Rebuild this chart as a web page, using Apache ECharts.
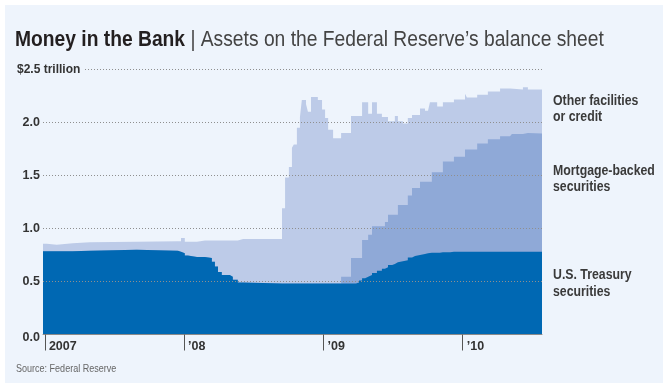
<!DOCTYPE html>
<html><head><meta charset="utf-8">
<script src="https://cdn.jsdelivr.net/npm/echarts@6/dist/echarts.min.js"></script>
<style>
html,body{margin:0;padding:0;background:#fff;width:663px;height:383px;overflow:hidden}
#c{position:absolute;left:5px;top:5px;width:658px;height:378px;background:#eef4fc}
</style>
</head><body><div id="c"></div>
<script>
// Week-ending dates where any layer changes (step values hold until next date)
const dates = ['2006-12-27','2007-01-06','2007-02-01','2007-03-15','2007-04-29','2007-08-30','2007-12-16','2007-12-24',
'2008-01-03','2008-01-11','2008-02-04','2008-02-25','2008-03-14','2008-03-22','2008-03-30','2008-04-09','2008-04-30',
'2008-05-08','2008-05-21','2008-06-04','2008-09-14','2008-09-22','2008-10-02','2008-10-10','2008-10-15','2008-10-23',
'2008-10-31','2008-11-05','2008-11-16','2008-11-21','2008-11-29','2008-12-17','2008-12-28','2009-01-05','2009-01-13',
'2009-01-26','2009-02-16','2009-03-14','2009-03-27','2009-04-04','2009-04-12','2009-04-20','2009-04-28','2009-05-08',
'2009-05-21','2009-06-03','2009-06-11','2009-06-19','2009-06-30','2009-07-07','2009-07-15','2009-07-28','2009-08-10',
'2009-08-21','2009-08-29','2009-09-11','2009-09-24','2009-10-02','2009-10-07','2009-10-12','2009-10-26','2009-11-02',
'2009-11-10','2009-11-29','2009-12-09','2010-01-07','2010-01-12','2010-02-08','2010-03-08','2010-04-09','2010-05-05',
'2010-05-10','2010-06-08','2010-06-21','2010-07-28'];
// $ trillion
const treasury = [0.785,0.785,0.785,0.79,0.80,0.79,0.78,0.765,
0.745,0.73,0.73,0.72,0.685,0.64,0.59,0.56,0.545,
0.515,0.49,0.48,0.48,0.48,0.48,0.48,0.48,0.48,
0.48,0.48,0.48,0.48,0.48,0.48,0.48,0.48,0.48,
0.48,0.48,0.48,0.49,0.51,0.53,0.545,0.56,0.58,
0.60,0.62,0.635,0.655,0.665,0.68,0.69,0.70,0.725,
0.74,0.75,0.758,0.765,0.77,0.77,0.77,0.77,0.775,
0.775,0.78,0.78,0.78,0.78,0.78,0.78,0.78,0.78,
0.78,0.78,0.78,0.78];
const mbs = [0,0,0,0,0,0,0,0,
0,0,0,0,0,0,0,0,0,
0,0,0,0,0,0,0,0,0,
0,0,0,0,0,0,0,0,0,
0,0.065,0.24,0.23,0.21,0.36,0.345,0.38,0.44,
0.42,0.40,0.425,0.475,0.465,0.45,0.53,0.52,0.585,
0.64,0.63,0.682,0.675,0.67,0.67,0.76,0.76,0.755,
0.855,0.85,0.895,0.965,0.965,1.02,1.06,1.09,1.09,
1.11,1.12,1.115,1.115];
const other = [0.07,0.06,0.075,0.08,0.075,0.09,0.10,0.145,
0.13,0.145,0.155,0.165,0.20,0.245,0.295,0.325,0.34,
0.37,0.41,0.42,0.71,1.00,1.10,1.28,1.31,1.47,
1.57,1.73,1.69,1.62,1.76,1.73,1.64,1.56,1.45,
1.37,1.355,1.34,1.34,1.34,1.30,1.30,1.14,1.17,
1.06,1.03,0.99,0.88,0.88,0.93,0.79,0.77,0.73,
0.69,0.69,0.69,0.67,0.67,0.75,0.66,0.62,0.62,
0.56,0.56,0.54,0.525,0.49,0.46,0.45,0.45,0.46,
0.42,0.43,0.415,0.415];
const seriesNames = ['U.S. Treasury securities','Mortgage-backed securities','Other facilities or credit'];
const seriesLabels = ['U.S. Treasury\nsecurities','Mortgage-backed\nsecurities','Other facilities\nor credit'];
const tickDates = ['2007-01-01','2008-01-01','2009-01-01','2010-01-01'];
const tickLabels = ['2007','\u201908','\u201909','\u201910'];

const SANS = "'Liberation Sans',Arial,sans-serif";
const NARROW_SCALE = 0.82; // emulate a narrow face by horizontal scaling
const pd = d => echarts.number.parseDate(d).getTime();
const tickTimes = tickDates.map(pd);
const times = dates.map(pd);
const colors = ['#0068b3','#8fa9d7','#bdcbe8'];

// cumulative layer tops
const topT = treasury.slice();
const topM = treasury.map((t, i) => +(t + mbs[i]).toFixed(3));
const topAll = topM.map((v, i) => +(v + other[i]).toFixed(3));
const tops = [topT, topM, topAll];

const chart = echarts.init(document.getElementById('c'), null, {renderer:'canvas'});
const areaSeries = [2, 1, 0].map(k => ({
  name: seriesNames[k], type: 'line', step: 'end', z: 3 - k,
  symbol: 'none', silent: true,
  lineStyle: {width: 0}, itemStyle: {color: colors[k]},
  areaStyle: {color: colors[k], opacity: 1, origin: 'start'},
  data: times.map((t, i) => [t, tops[k][i]])
}));

const narrowText = (x, y, text, size, weight, fill, extra) => ({
  type: 'text', x: x, y: y, scaleX: NARROW_SCALE, z: 100,
  style: Object.assign({text: text, fill: fill, fontFamily: SANS, fontWeight: weight,
    fontSize: size, verticalAlign: 'middle'}, extra || {})
});

const option = {
  animation: false,
  backgroundColor: 'transparent',
  grid: {left: 38, right: 121, top: 64.3, bottom: 48.5},
  xAxis: {
    type: 'value', min: times[0], max: times[times.length-1], z: 10,
    axisLine: {show: true, lineStyle: {color: '#8a8a8a', width: 1}},
    axisTick: {show: true, customValues: tickTimes, length: 16, lineStyle: {color: '#555', width: 1}},
    axisLabel: {
      customValues: tickTimes,
      formatter: v => { const i = tickTimes.indexOf(v); return i >= 0 ? tickLabels[i] : ''; },
      align: 'left', verticalAlign: 'middle', margin: 12, padding: [0,0,0,4],
      color: '#333', fontFamily: SANS, fontWeight: 'bold', fontSize: 12.5
    },
    splitLine: {show: false}
  },
  yAxis: {
    type: 'value', min: 0, max: 2.5, interval: 0.5, z: 10,
    axisLine: {show: false}, axisTick: {show: false},
    axisLabel: {
      margin: 3, color: '#333', fontFamily: SANS, fontWeight: 'bold', fontSize: 12.5,
      formatter: v => v >= 2.49 ? '' : (v === 0 ? '{z|0.0}' : v.toFixed(1)),
      rich: {z: {padding: [7,0,0,0], color: '#333', fontFamily: SANS, fontWeight: 'bold', fontSize: 12.5}}
    },
    splitLine: {show: true, lineStyle: {color: '#8f8f8f', width: 1, type: [1,2]}}
  },
  series: areaSeries,
  graphic: [
    {type: 'text', x: 10, y: 35, scaleX: 0.875, z: 100, style: {
      text: '{b|Money in the Bank} {r|| Assets on the Federal Reserve\u2019s balance sheet}',
      verticalAlign: 'middle', fontFamily: SANS, fontSize: 22,
      rich: {
        b: {fontFamily: SANS, fontWeight: 'bold', fontSize: 22, fill: '#231f20'},
        r: {fontFamily: SANS, fontWeight: 'normal', fontSize: 22, fill: '#444'}
      }}},
    {type: 'text', x: 12, y: 64.3, z: 100, style: {
      text: '$2.5 trillion', fill: '#333', fontFamily: SANS, fontWeight: 'bold', fontSize: 12,
      verticalAlign: 'middle', backgroundColor: '#eef4fc', padding: [2,3,2,0]}},
    narrowText(548, 104, seriesLabels[2], 15, 'bold', '#3a3a3a', {lineHeight: 16.5}),
    narrowText(548, 174, seriesLabels[1], 15, 'bold', '#3a3a3a', {lineHeight: 16.5}),
    narrowText(548, 278.5, seriesLabels[0], 15, 'bold', '#3a3a3a', {lineHeight: 16.5}),
    narrowText(11, 363.5, 'Source: Federal Reserve', 11, 'normal', '#666')
  ]
};
chart.setOption(option);
</script>
</body></html>
